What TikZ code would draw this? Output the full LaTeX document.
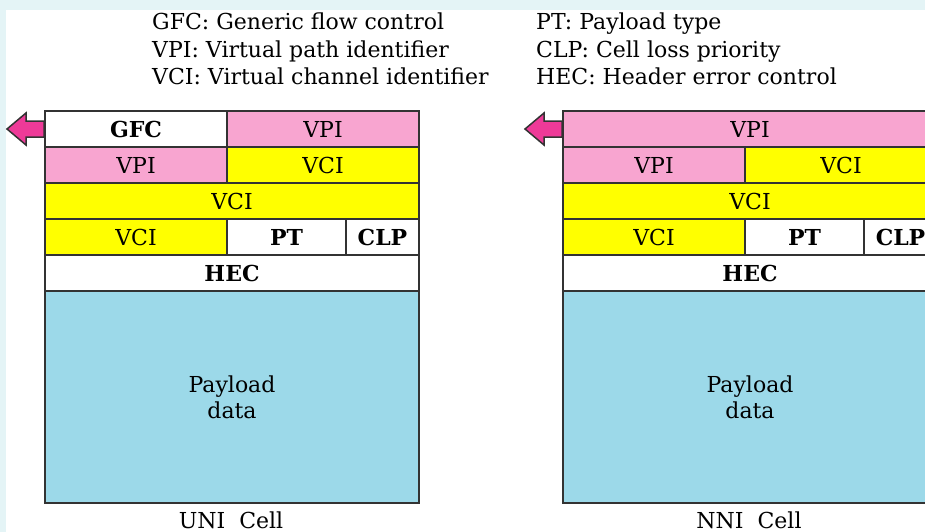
\documentclass[tikz,border=0pt]{standalone}
\usepackage{fontspec}
\setmainfont{DejaVu Serif}
\usepackage{xcolor}
\usepackage{tikz}
\usetikzlibrary{calc}
\definecolor{frame}{HTML}{E4F4F6}
\definecolor{edge}{HTML}{333333}
\definecolor{vpic}{HTML}{F8A5D0}
\definecolor{vcic}{HTML}{FFFF00}
\definecolor{paycol}{HTML}{9CD9E9}
\definecolor{flagc}{HTML}{EE3A98}
\tikzset{
  field/.style={draw=edge, line width=2pt, inner sep=0pt, anchor=north west,
    minimum height=36pt, font=\fontsize{22}{24}\selectfont},
  vpi/.style={field, fill=vpic},
  vci/.style={field, fill=vcic},
  ctl/.style={field, fill=white, font=\fontsize{22}{24}\selectfont\bfseries},
  pay/.style={field, fill=paycol, minimum height=212pt, align=center,
    font=\fontsize{22}{26}\selectfont},
  flag/.style={draw=edge, fill=flagc, line width=1.5pt, line join=miter},
  legend/.style={anchor=base west, inner sep=0pt, font=\fontsize{22}{24}\selectfont},
  caption/.style={anchor=base, inner sep=0pt, font=\fontsize{22}{24}\selectfont},
}

\begin{document}
\begin{tikzpicture}[x=1pt, y=-1pt]
  \useasboundingbox (0,0) rectangle (925,532);
  \clip (0,0) rectangle (925,532);
  \def\dx{518}
  % background
  \fill[frame] (0,0) rectangle (925,532);
  \fill[white] (6,10) rectangle (925,532);
  % legend
  \node[legend] (l1) at (152,30) {GFC: Generic flow control};
  \node[legend] (l2) at (152,58) {VPI: Virtual path identifier};
  \node[legend] (l3) at (152,85) {VCI: Virtual channel identifier};
  \node[legend] (l4) at (536,30) {PT: Payload type};
  \node[legend] (l5) at (536,58) {CLP: Cell loss priority};
  \node[legend] (l6) at (536,85) {HEC: Header error control};
  % UNI cell
  \node[ctl, minimum width=182pt] (ugfc) at (44,110) {GFC};
  \node[vpi, minimum width=192pt] (uvpia) at (226,110) {VPI};
  \node[vpi, minimum width=182pt] (uvpib) at (44,146) {VPI};
  \node[vci, minimum width=192pt] (uvcia) at (226,146) {VCI};
  \node[vci, minimum width=374pt] (uvcib) at (44,182) {VCI};
  \node[vci, minimum width=182pt] (uvcic) at (44,218) {VCI};
  \node[ctl, minimum width=119pt] (upt) at (226,218) {PT};
  \node[ctl, minimum width=73pt] (uclp) at (345,218) {CLP};
  \node[ctl, minimum width=374pt] (uhec) at (44,254) {HEC};
  \node[pay, minimum width=374pt] (upay) at (44,290) {Payload\\data};
  \draw[flag] (ugfc.west) ++(0,-8) -- ++(-18,0) -- ++(0,-8) -- ++(-19,16)
    -- ++(19,16) -- ++(0,-8) -- ++(18,0) -- cycle;
  \node[caption] (ucap) at (231,528) {UNI\ \ Cell};
  % NNI cell
  \node[vpi, minimum width=374pt] (nvpia) at (44+\dx,110) {VPI};
  \node[vpi, minimum width=182pt] (nvpib) at (44+\dx,146) {VPI};
  \node[vci, minimum width=192pt] (nvcia) at (226+\dx,146) {VCI};
  \node[vci, minimum width=374pt] (nvcib) at (44+\dx,182) {VCI};
  \node[vci, minimum width=182pt] (nvcic) at (44+\dx,218) {VCI};
  \node[ctl, minimum width=119pt] (npt) at (226+\dx,218) {PT};
  \node[ctl, minimum width=73pt] (nclp) at (345+\dx,218) {CLP};
  \node[ctl, minimum width=374pt] (nhec) at (44+\dx,254) {HEC};
  \node[pay, minimum width=374pt] (npay) at (44+\dx,290) {Payload\\data};
  \draw[flag] (nvpia.west) ++(0,-8) -- ++(-18,0) -- ++(0,-8) -- ++(-19,16)
    -- ++(19,16) -- ++(0,-8) -- ++(18,0) -- cycle;
  \node[caption] (ncap) at (231+\dx,528) {NNI\ \ Cell};
\end{tikzpicture}
\end{document}
